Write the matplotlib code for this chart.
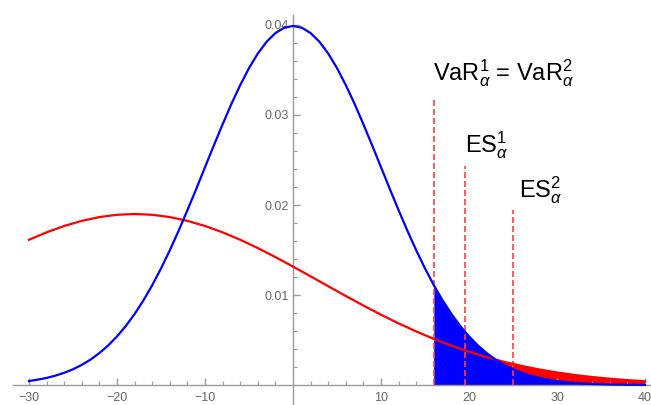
import numpy as np
import matplotlib
matplotlib.use("Agg")
import matplotlib.pyplot as plt
from matplotlib.ticker import FixedLocator

## Values
x_blue = list(range(-30, 41))
y_blue = [0.00044, 0.00060, 0.00079, 0.00104, 0.00136, 0.00175, 0.00224, 0.00283, 0.00355, 0.00440,
          0.00540, 0.00656, 0.00789, 0.00940, 0.01109, 0.01295, 0.01497, 0.01714, 0.01942, 0.02178,
          0.02420, 0.02661, 0.02897, 0.03123, 0.03332, 0.03521, 0.03683, 0.03814, 0.03910, 0.03970,
          0.03989,
          0.03970, 0.03910, 0.03814, 0.03683, 0.03521, 0.03332, 0.03123, 0.02897, 0.02661, 0.02420,
          0.02178, 0.01942, 0.01714, 0.01497, 0.01295, 0.01109, 0.00940, 0.00789, 0.00656, 0.00540,
          0.00440, 0.00355, 0.00283, 0.00224, 0.00175, 0.00136, 0.00104, 0.00079, 0.00060, 0.00044,
          0.00033, 0.00024, 0.00017, 0.00012, 0.00009, 0.00006, 0.00004, 0.00003, 0.00002, 0.00001]

x_red = list(range(-30, 41, 2))
y_red = [0.016137, 0.016963, 0.017670, 0.018240, 0.018658, 0.018914, 0.019000, 0.018914, 0.018658,
         0.018240, 0.017670, 0.016963, 0.016137, 0.015214, 0.014214, 0.013159, 0.012073, 0.010976,
         0.009889, 0.008829, 0.007811, 0.006849, 0.005950, 0.005124, 0.004371, 0.003696, 0.003097,
         0.002571, 0.002116, 0.001725, 0.001394, 0.001116, 0.000886, 0.000697, 0.000543, 0.000419]

var_x = 16.0
es1_x = 19.6
es2_x = 25.0
marker_x = [var_x, es1_x, es2_x]
marker_top = [0.0318, 0.0243, 0.0195]

labels = [r"VaR$_\alpha^1$ = VaR$_\alpha^2$", r"ES$_\alpha^1$", r"ES$_\alpha^2$"]
label_x = [15.9, 19.55, 25.7]
label_y = [0.0338, 0.0258, 0.0209]

x_ticks = [-30, -20, -10, 10, 20, 30, 40]
y_ticks = [0.01, 0.02, 0.03, 0.04]

plt.rcParams["font.family"] = ["Liberation Sans", "DejaVu Sans"]
plt.rcParams["mathtext.fontset"] = "custom"
plt.rcParams["mathtext.rm"] = "Liberation Sans"
plt.rcParams["mathtext.it"] = "Liberation Sans:italic"

fig = plt.figure(figsize=(6.51, 4.05), dpi=100)
ax = fig.add_axes([13 / 651, 0, 638 / 651, 390 / 405])
ax.set_xlim(-31.82, 40.68)
ax.set_ylim(-0.00222, 0.04111)

xb = np.array(x_blue)
yb = np.array(y_blue)
xr = np.array(x_red)
yr = np.array(y_red)

## shaded tails
ax.fill_between(xr, 0, yr, where=xr >= var_x, color="#ff0000", lw=0, zorder=1)
ax.fill_between(xb, 0, yb, where=xb >= var_x, color="#0000ff", lw=0, zorder=2)

## dashed markers
for mx, mt in zip(marker_x, marker_top):
    ax.plot([mx, mx], [0, mt], color="#ff4040", lw=1.2, ls=(0, (3.6, 1.8)), zorder=3)

## curves
ax.plot(xr, yr, color="#ff0000", lw=1.6, zorder=4)
ax.plot(xb, yb, color="#0000ff", lw=1.6, zorder=5)

for t, lx, ly in zip(labels, label_x, label_y):
    ax.text(lx, ly, t, fontsize=17, ha="left", va="baseline", color="black")

## Mathematica-like axes
for s in ["top", "right"]:
    ax.spines[s].set_visible(False)
ax.spines["left"].set_position(("data", 0))
ax.spines["bottom"].set_position(("data", 0))
for s in ["left", "bottom"]:
    ax.spines[s].set_color("#999999")
    ax.spines[s].set_linewidth(1.0)

ax.xaxis.set_major_locator(FixedLocator(x_ticks))
ax.xaxis.set_minor_locator(FixedLocator([v for v in range(-30, 41, 2) if v % 10 != 0]))
ax.yaxis.set_major_locator(FixedLocator(y_ticks))
ax.yaxis.set_minor_locator(FixedLocator([round(0.002 * i, 3) for i in range(1, 21) if i % 5 != 0]))
ax.set_xticklabels(["\u221230", "\u221220", "\u221210", "10", "20", "30", "40"])
ax.set_yticklabels(["0.01", "0.02", "0.03", "0.04"])
ax.tick_params(which="major", direction="in", length=5, width=1.0, color="#999999",
               labelcolor="#666666", labelsize=9, pad=3)
ax.tick_params(axis="x", which="major", pad=5)
ax.tick_params(which="minor", direction="in", length=3, width=0.8, color="#999999")

fig.savefig("out.png", dpi=100)
